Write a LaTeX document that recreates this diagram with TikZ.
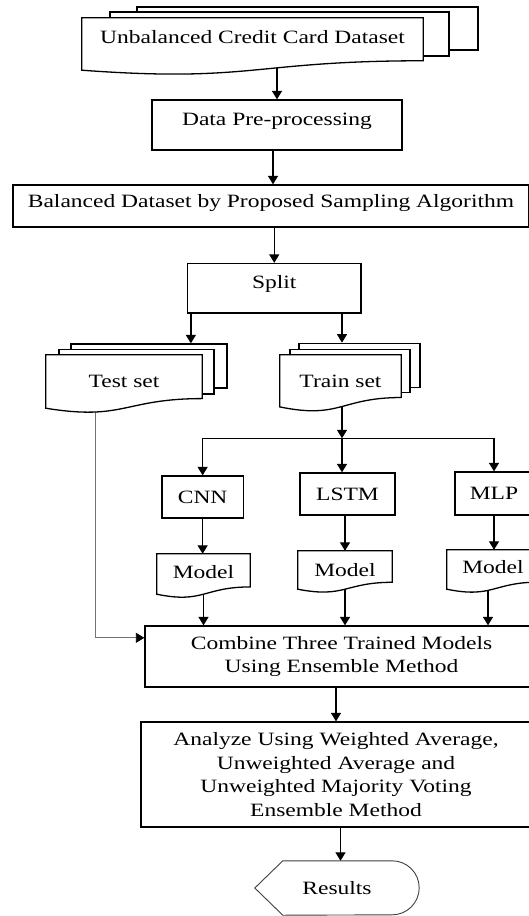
\documentclass[tikz,border=0pt]{standalone}
\usepackage{fontspec}
\setmainfont{Liberation Serif}[FakeStretch=1.25]
\usetikzlibrary{arrows.meta,calc}
\pgfdeclarelayer{bg}
\pgfdeclarelayer{conn}
\pgfdeclarelayer{shp}
\pgfsetlayers{bg,conn,shp,main}
\newcommand\docpath[1]{%
  \path[docline] (#1.north west) -- (#1.north east)
    -- ($(#1.north east)!0.82!(#1.south east)$)
    .. controls ($(#1.north)!0.82!(#1.south)$) and ($(#1.north)!1.24!(#1.south)$) .. (#1.south west) -- cycle;}
\begin{document}
\begin{tikzpicture}[x=1pt,y=-1pt,
  every node/.style={font=\fontsize{18.8pt}{23.5pt}\selectfont},
  box/.style={draw, line width=1.3pt, fill=white, inner sep=0pt, text height=12.4pt, text depth=0pt},
  boxml/.style={draw, line width=1.3pt, fill=white, inner sep=0pt, align=center},
  docn/.style={inner sep=0pt, text height=12.4pt, text depth=0pt},
  page/.style={draw, line width=1.3pt, fill=white, inner sep=0pt},
  docline/.style={draw, line width=1.3pt, fill=white},
  resline/.style={draw=black!75, line width=0.9pt, fill=white},
  arr/.style={line width=1.3pt, -{Triangle[length=8.5pt,width=10pt]}},
  testln/.style={line width=0.8pt, draw=black!55, -{Triangle[length=8.5pt,width=10pt,color=black]}}
]
\useasboundingbox (0,0) rectangle (528,916);
\begin{pgfonlayer}{bg}
  \fill[white] (0,0) rectangle (528,916);
\end{pgfonlayer}

% process boxes
\node[box, minimum width=250pt, minimum height=50pt, text depth=11pt] (dp) at (277,125) {Data Pre-processing};
\node[box, minimum width=516pt, minimum height=42pt, text depth=9pt] (bal) at (271,206) {Balanced Dataset by Proposed Sampling Algorithm};
\node[box, minimum width=173.5pt, minimum height=49.5pt, text depth=12pt] (split) at (274.25,288.25) {Split};
\node[box, minimum width=81.3pt, minimum height=42pt] (cnn) at (202.65,497) {CNN};
\node[box, minimum width=95pt, minimum height=42pt] (lstm) at (347.5,494) {LSTM};
\node[box, minimum width=78pt, minimum height=43pt] (mlp) at (494,493.5) {MLP};
\node[boxml, minimum width=393pt, minimum height=61pt] (comb) at (341.5,656.5) {Combine Three Trained Models\\Using Ensemble Method};
\node[boxml, minimum width=390pt, minimum height=105pt] (ana) at (336,774.5) {Analyze Using Weighted Average,\\Unweighted Average and\\Unweighted Majority Voting\\Ensemble Method};

% documents (front pages)
\node[docn, minimum width=341pt, minimum height=52pt, text depth=13pt] (unb) at (252.5,44) {Unbalanced Credit Card Dataset};
\node[docn, minimum width=156pt, minimum height=53pt] (test) at (124,381.5) {Test set};
\node[docn, minimum width=121pt, minimum height=51.7pt] (train) at (340.5,380.85) {Train set};
\node[docn, minimum width=93pt, minimum height=40pt, text depth=3pt] (mcnn) at (203.5,574) {Model};
\node[docn, minimum width=94pt, minimum height=38pt] (mlstm) at (345,570) {Model};
\node[docn, minimum width=92pt, minimum height=39pt, text depth=4pt] (mmlp) at (493,569.5) {Model};
\node[docn, minimum width=164pt, minimum height=54pt] (res) at (337,888) {Results};

\begin{pgfonlayer}{shp}
  \node[page, minimum width=341pt, minimum height=43pt] (u3) at (307.5,28.5) {};
  \node[page, minimum width=339pt, minimum height=44pt] (u2) at (279.5,34) {};
  \docpath{unb}
  \node[page, minimum width=156pt, minimum height=44pt] (ts3) at (149,366) {};
  \node[page, minimum width=155pt, minimum height=44.5pt] (ts2) at (136.5,371.75) {};
  \docpath{test}
  \node[page, minimum width=121pt, minimum height=44pt] (tr3) at (359.5,365.3) {};
  \node[page, minimum width=120pt, minimum height=43.4pt] (tr2) at (350,371) {};
  \docpath{train}
  \docpath{mcnn}
  \docpath{mlstm}
  \docpath{mmlp}
  \path[resline] (res.west) -- ($(res.north west)+(28,0)$) -- ($(res.north east)+(-27,0)$)
     arc[start angle=90, end angle=-90, radius=27pt] -- ($(res.south west)+(28,0)$) -- cycle;
\end{pgfonlayer}

\coordinate (br) at (342,438.3);
\coordinate (dpo) at ([xshift=-4pt]dp.center);
\coordinate (sl) at ([xshift=4pt]split.south west);
\coordinate (mo) at ([xshift=-5pt]mmlp.center);
\coordinate (ro) at ([xshift=4.5pt]ana.center);
\coordinate (tl) at ($(test.west)!0.32!(test.east)$);
\coordinate (ci) at ($(comb.north west)!0.2!(comb.south west)$);

\begin{pgfonlayer}{conn}
  \draw[arr] (dp |- unb.center) -- (dp.north);
  \draw[arr] (dpo) -- (dpo |- bal.north);
  \draw[arr] (split |- bal.center) -- (split.north);
  \draw[arr] (sl) -- (sl |- ts3.north);
  \draw[arr] (br |- split.center) -- (br |- tr3.north);
  \draw[arr] (br |- train.center) -- (br);
  \draw[line width=1.3pt] (cnn |- br) -- (mlp |- br);
  \draw[arr] (cnn |- br) -- (cnn.north);
  \draw[arr] (br) -- (br |- lstm.north);
  \draw[arr] (mlp |- br) -- (mlp.north);
  \draw[arr] (cnn) -- (cnn |- mcnn.north);
  \draw[arr] (mlstm |- lstm.center) -- (mlstm.north);
  \draw[arr] (mlp) -- (mlp |- mmlp.north);
  \draw[arr] (mcnn) -- (mcnn |- comb.north);
  \draw[arr] (mlstm) -- (mlstm |- comb.north);
  \draw[arr] (mo) -- (mo |- comb.north);
  \draw[testln] (tl) |- (ci);
  \draw[arr] (ana |- comb.center) -- (ana.north);
  \draw[arr] (ro) -- (ro |- res.north);
\end{pgfonlayer}
\end{tikzpicture}
\end{document}
